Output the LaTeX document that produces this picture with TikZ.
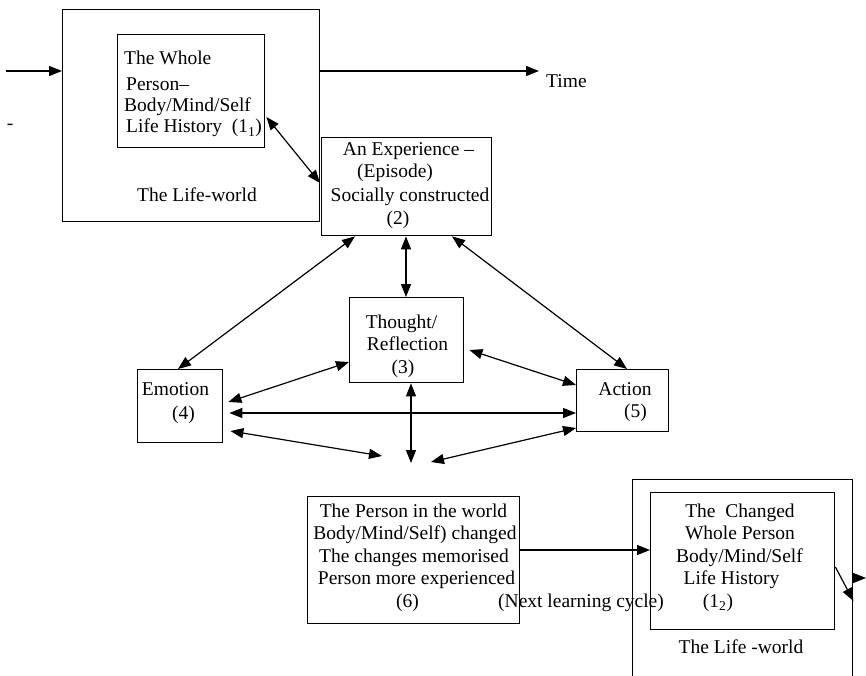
\documentclass[tikz,border=0pt]{standalone}
\usepackage{fontspec}
\setmainfont{Liberation Serif}
\usetikzlibrary{arrows.meta,calc}

\tikzset{
  every node/.style={font=\fontsize{19.5}{22.5}\selectfont},
  box/.style={draw, line width=1.4pt, inner sep=0pt, anchor=north west},
  txt/.style={inner sep=0pt, anchor=base},
  ltxt/.style={inner sep=0pt, anchor=base west},
  tip/.tip={Triangle[length=13pt,width=10pt]},
  arr/.style={line width=1.2pt, -tip},
  darr/.style={line width=1.2pt, tip-tip},
}

\begin{document}
\begin{tikzpicture}[x=1pt,y=-1pt]
\useasboundingbox (0,0) rectangle (866,676);
\clip (0,0) rectangle (866,676);

% boxes
\node[box, minimum width=257, minimum height=212] (lw1) at (62,9) {};
\node[box, minimum width=147, minimum height=113] (wp1) at (117,34) {};
\node[box, minimum width=170, minimum height=98]  (exp) at (321,137) {};
\node[box, minimum width=114, minimum height=85]  (th)  at (349,297) {};
\node[box, minimum width=85,  minimum height=73]  (emo) at (137,369) {};
\node[box, minimum width=92,  minimum height=62]  (act) at (576,369) {};
\node[box, minimum width=212, minimum height=127] (per) at (307,496) {};
\node[box, minimum width=220, minimum height=240] (lw2) at (632,479) {};
\node[box, minimum width=184, minimum height=137] (wp2) at (650,492) {};

% texts: first life-world
\node[ltxt] (t1a) at (124,65)  {The Whole};
\node[ltxt] (t1b) at (126,91)  {Person--};
\node[ltxt] (t1c) at (124,112) {Body/Mind/Self};
\node[ltxt] (t1d) at (126,133) {Life History~ (1\textsubscript{1})};
\node[txt]  (lw1t) at (197,202) {The Life-world};
\node[inner sep=0pt] (dash) at (10,127) {-};
\node[ltxt] (time) at (546,88) {Time};

% experience
\node[txt] (t2a) at (408.5,156) {An Experience --};
\node[txt] (t2b) at (395,178)   {(Episode)};
\node[txt] (t2c) at (410,201)   {Socially constructed};
\node[txt] (t2d) at (398,224)   {(2)};

% thought, emotion, action
\node[txt] (t3a) at (401.5,328) {Thought/};
\node[txt] (t3b) at (407.5,350) {Reflection};
\node[txt] (t3c) at (403,373)   {(3)};
\node[txt] (t4a) at (175.5,395) {Emotion};
\node[txt] (t4b) at (183.5,419) {(4)};
\node[txt] (t5a) at (625,395)   {Action};
\node[txt] (t5b) at (635.5,417) {(5)};

% changed person
\node[txt] (t6a) at (413.5,517) {The Person in the world};
\node[txt] (t6b) at (415,539.5) {Body/Mind/Self) changed};
\node[txt] (t6c) at (414,562)   {The changes memorised};
\node[txt] (t6d) at (416.5,584.5) {Person more experienced};
\node[txt] (t6e) at (407.5,607) {(6)};
\node[ltxt] (next) at (498,607) {(Next learning cycle)};

% second life-world
\node[txt] (t7a) at (740,517)   {The\ \ Changed};
\node[txt] (t7b) at (740,539.5) {Whole Person};
\node[txt] (t7c) at (739.5,562) {Body/Mind/Self};
\node[txt] (t7d) at (731.5,584.5) {Life History};
\node[txt] (t7e) at (718,607)   {(1\textsubscript{2})};
\node[txt] (lw2t) at (741,653)  {The Life -world};

% free ends
\coordinate (inL) at (6,71);
\coordinate (timeEnd) at (539,71);
\coordinate (m1) at (382,456);
\coordinate (m2) at (431,462);
\coordinate (m3) at (411,463);
\coordinate (out) at (866,578);

% connectors
\draw[arr] (inL) -- (inL -| lw1.west);
\draw[arr] (timeEnd -| lw1.east) -- (timeEnd);
\draw[darr] ($(wp1.north east)+(1,83)$) -- ($(exp.north west)+(-1,46)$);
\draw[darr] ($(exp.south west)+(34,0)$) -- ($(emo.north west)+(41,0)$);
\draw[darr] ($(exp.south west)+(85,0)$) -- ($(th.north west)+(57,0)$);
\draw[darr] ($(exp.south west)+(131,0)$) -- ($(act.north west)+(51,0)$);
\draw[darr] ($(th.north west)+(0,65)$) -- ($(emo.north east)+(5,33)$);
\draw[darr] ($(th.north east)+(5,53)$) -- ($(act.north west)+(0,16)$);
\draw[darr] ($(emo.north east)+(6,44)$) -- ($(act.north west)+(0,44)$);
\draw[darr] ($(emo.north east)+(7,62)$) -- (m1);
\draw[darr] ($(act.north west)+(0,59)$) -- (m2);
\draw[darr] ($(th.south west)+(62,0)$) -- (m3);
\draw[arr] ($(per.north east)+(0,54)$) -- ($(wp2.north west)+(0,58)$);
\draw[arr] ($(wp2.north east)+(0,75)$) -- ($(lw2.north east)+(0,122)$);
\draw[arr] ($(lw2.north east)+(0,99)$) -- (out);
\end{tikzpicture}
\end{document}
